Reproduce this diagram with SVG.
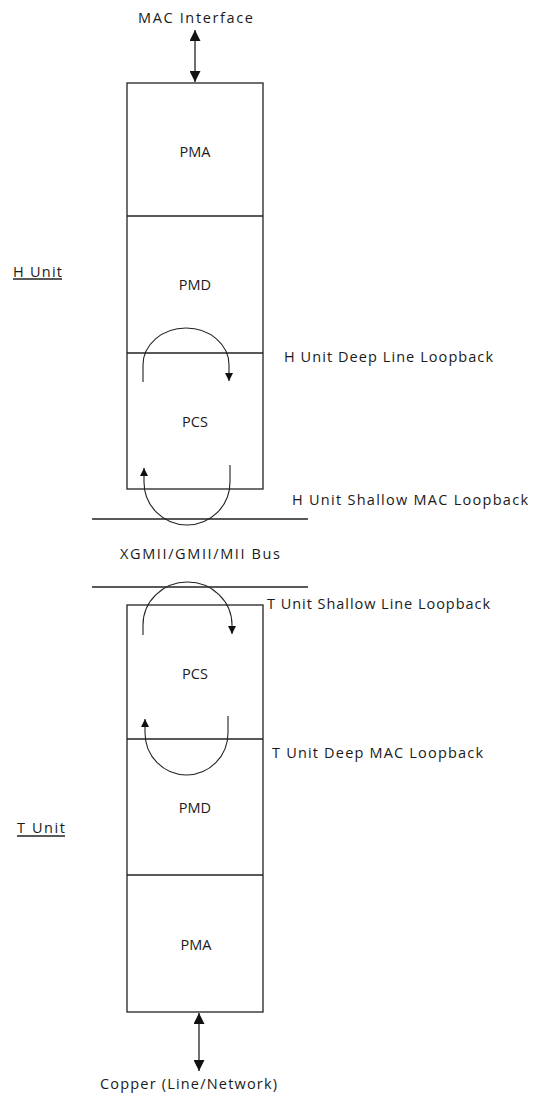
<svg xmlns="http://www.w3.org/2000/svg" width="533" height="1096" viewBox="0 0 533 1096">
<style>
text{font-family:"Open Sans","Liberation Sans",sans-serif;font-size:14.5px;fill:#1a1a1a;dominant-baseline:central}
.c{text-anchor:middle}
.box{fill:#fff;stroke:#222;stroke-width:1.3}
.ln{stroke:#222;stroke-width:1.3;fill:none}
.lp{stroke:#222;stroke-width:1.1;fill:none}
</style>
<defs>
<marker id="ah" viewBox="0 0 10 10" refX="10" refY="5" markerWidth="8" markerHeight="8" markerUnits="userSpaceOnUse" orient="auto">
<path d="M0,0 L10,5 L0,10 Z" fill="#111"/>
</marker>
<marker id="big" viewBox="0 0 10 10" refX="10" refY="5" markerWidth="11" markerHeight="11" markerUnits="userSpaceOnUse" orient="auto-start-reverse">
<path d="M0,0 L10,5 L0,10 Z" fill="#111"/>
</marker>
</defs>

<g id="h-unit">
<rect class="box" x="127" y="83" width="136" height="406"/>
<line class="ln" x1="127" y1="216" x2="263" y2="216"/>
<line class="ln" x1="127" y1="353" x2="263" y2="353"/>
<text x="13" y="271" textLength="49">H Unit</text>
<line class="ln" x1="13" y1="279" x2="62" y2="279" stroke-width="1"/>
</g>
<g id="h-pma"><text class="c" x="195" y="151">PMA</text></g>
<g id="h-pmd"><text class="c" x="195" y="284">PMD</text></g>
<g id="h-pcs"><text class="c" x="195" y="421">PCS</text></g>

<g id="bus">
<line class="ln" x1="92" y1="519" x2="308" y2="519"/>
<line class="ln" x1="92" y1="587" x2="308" y2="587"/>
<text x="120" y="553" textLength="160">XGMII/GMII/MII Bus</text>
</g>

<g id="t-unit">
<rect class="box" x="127" y="605" width="136" height="407"/>
<line class="ln" x1="127" y1="739" x2="263" y2="739"/>
<line class="ln" x1="127" y1="875" x2="263" y2="875" stroke-width="2.5"/>
<text x="17" y="827" textLength="48">T Unit</text>
<line class="ln" x1="17" y1="836" x2="65" y2="836" stroke-width="1"/>
</g>
<g id="t-pcs"><text class="c" x="195" y="673">PCS</text></g>
<g id="t-pmd"><text class="c" x="195" y="807">PMD</text></g>
<g id="t-pma"><text class="c" x="196" y="944">PMA</text></g>

<g id="mac-interface"><text x="138" y="17" textLength="115">MAC Interface</text></g>
<g id="copper"><text x="100" y="1083" textLength="177">Copper (Line/Network)</text></g>

<g id="labels">
<text x="284" y="356" textLength="209">H Unit Deep Line Loopback</text>
<text x="292" y="499" textLength="236">H Unit Shallow MAC Loopback</text>
<text x="267" y="603" textLength="223">T Unit Shallow Line Loopback</text>
<text x="272" y="752" textLength="211">T Unit Deep MAC Loopback</text>
</g>

<g id="connectors">
<line class="ln" x1="195" y1="30" x2="195" y2="82" marker-start="url(#big)" marker-end="url(#big)"/>
<line class="ln" x1="199" y1="1013" x2="199" y2="1071" marker-start="url(#big)" marker-end="url(#big)"/>
<path class="lp" d="M143,382 L143,365 A43,37 0 0 1 229,365 L229,381" marker-end="url(#ah)"/>
<path class="lp" d="M230,465 L230,482 A43,43 0 0 1 144,482 L144,468" marker-end="url(#ah)"/>
<path class="lp" d="M143,635 L143,625 A44.5,43 0 0 1 232,625 L232,634" marker-end="url(#ah)"/>
<path class="lp" d="M228,716 L228,733 A41.5,42 0 0 1 145,733 L145,719" marker-end="url(#ah)"/>
</g>
</svg>
